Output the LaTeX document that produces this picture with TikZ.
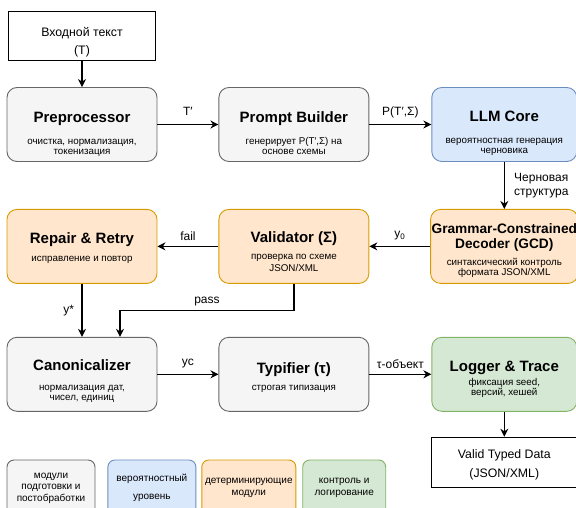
\documentclass[tikz,border=0pt]{standalone}
\usepackage{fontspec}
\setmainfont{Liberation Sans}
\usetikzlibrary{arrows.meta, positioning}
\definecolor{prepfill}{HTML}{F5F5F5}
\definecolor{prepdraw}{HTML}{666666}
\definecolor{llmfill}{HTML}{DAE8FC}
\definecolor{llmdraw}{HTML}{6C8EBF}
\definecolor{detfill}{HTML}{FFE6CC}
\definecolor{detdraw}{HTML}{D79B00}
\definecolor{logfill}{HTML}{D5E8D4}
\definecolor{logdraw}{HTML}{82B366}
% title of a module, optional strut height
\newcommand{\modname}[2][20pt]{{\fontsize{15pt}{18pt}\selectfont\bfseries\rule{0pt}{#1}#2}}
\newcommand{\gcdname}[2][0pt]{{\fontsize{13.7pt}{15pt}\selectfont\bfseries\rule{0pt}{#1}#2}}
\tikzset{
  module/.style={
    rectangle, rounded corners=10pt, line width=0.9pt,
    minimum width=150pt, minimum height=74pt, inner xsep=1pt,
    align=center, font=\fontsize{9.8pt}{10pt}\selectfont
  },
  prep/.style={module, draw=prepdraw, fill=prepfill},
  llm/.style={module, draw=llmdraw, fill=llmfill},
  det/.style={module, draw=detdraw, fill=detfill},
  logc/.style={module, draw=logdraw, fill=logfill},
  iobox/.style={
    rectangle, draw=black, fill=white, line width=0.9pt,
    minimum width=147pt, minimum height=49pt,
    align=center, font=\fontsize{12.3pt}{18.5pt}\selectfont
  },
  legend/.style={
    rectangle, rounded corners=7pt, line width=0.9pt,
    minimum width=88pt, minimum height=56pt, inner xsep=1pt,
    align=center, font=\fontsize{10pt}{11.5pt}\selectfont
  },
  arrow/.style={line width=1.2pt, -{Stealth[length=8pt,width=8pt]}},
  elabel/.style={font=\fontsize{12pt}{14pt}\selectfont},
}

\begin{document}
\setlength{\lineskiplimit}{-50pt}
\begin{tikzpicture}[x=1pt, y=-1pt]
  \useasboundingbox (0,0) rectangle (576,508);

  % modules
  \node (pre) [prep] at (82,124.5) {\modname[29pt]{Preprocessor}\\[12pt]очистка, нормализация,\\токенизация};
  \node (pb)  [prep, right=61pt of pre] {\modname[29pt]{Prompt Builder}\\[12pt]генерирует P(T′,Σ) на\\основе схемы};
  \node (llm) [llm, right=62pt of pb, minimum width=145pt] {\modname[29pt]{LLM Core}\\[12pt]вероятностная генерация\\черновика};
  \node (gcd) [det, below=47pt of llm, minimum width=145pt] {\gcdname[18.5pt]{Grammar-Constrained}\\[5pt]\gcdname{Decoder (GCD)}\\[6.7pt]синтаксический контроль\\формата JSON/XML};
  \node (val) [det, below=47pt of pb]  {\modname[22pt]{Validator (Σ)}\\[7pt]проверка по схеме\\[2pt]JSON/XML};
  \node (rep) [det, below=47pt of pre] {\modname[14pt]{Repair \& Retry}\\[8pt]исправление и повтор};
  \node (can) [prep, below=53pt of rep] {\modname[25pt]{Canonicalizer}\\[10pt]нормализация дат,\\чисел, единиц};
  \node (typ) [prep, below=53pt of val] {\modname[17pt]{Typifier (τ)}\\[7pt]строгая типизация};
  \node (log) [logc, below=53pt of gcd, minimum width=145pt] {\modname[20pt]{Logger \& Trace}\\[4pt]фиксация seed,\\версий, хешей};

  % input / output
  \node (in)  [iobox, above=26pt of pre] {\rule{0pt}{21pt}Входной текст\\(Т)};
  \node (out) [iobox, below=25pt of log, minimum width=145pt, minimum height=50pt] {\rule{0pt}{14pt}Valid Typed Data\\(JSON/XML)};

  % legend
  \node (leg1) [legend, draw=prepdraw, fill=prepfill] at (51,488) {модули\\подготовки и\\постобработки};
  \node (leg2) [legend, draw=llmdraw, fill=llmfill, right=12pt of leg1] {вероятностный\\[6pt]уровень};
  \node (leg3) [legend, draw=detdraw, fill=detfill, right=5pt of leg2, minimum width=94pt] {детерминирующие\\модули};
  \node (leg4) [legend, draw=logdraw, fill=logfill, right=6pt of leg3, minimum width=83pt] {контроль и\\логирование};

  % connectors
  \draw [arrow] (in)  -- (pre);
  \draw [arrow] (pre) -- node[elabel, above=5pt]{T′} (pb);
  \draw [arrow] (pb)  -- node[elabel, above=3pt]{P(T′,Σ)} (llm);
  \draw [arrow] (llm) -- node[elabel, right=6pt, align=left]{Черновая\\структура} (gcd);
  \draw [arrow] (gcd) -- node[elabel, above=2pt]{y\textsubscript{0}} (val);
  \draw [arrow] (val) -- node[elabel, above=2pt]{fail} (rep);
  \draw [arrow] (rep) -- node[elabel, left=4pt]{y*} (can);
  \draw [arrow] (val.south) -- ++(0,27) -| node[elabel, pos=0.25, above=1pt]{pass} ([xshift=38pt]can.north);
  \draw [arrow] (can) -- node[elabel, above=2pt]{yc} (typ);
  \draw [arrow] (typ) -- node[elabel, above=2pt]{τ-объект} (log);
  \draw [arrow] (log) -- (out);
\end{tikzpicture}
\end{document}
